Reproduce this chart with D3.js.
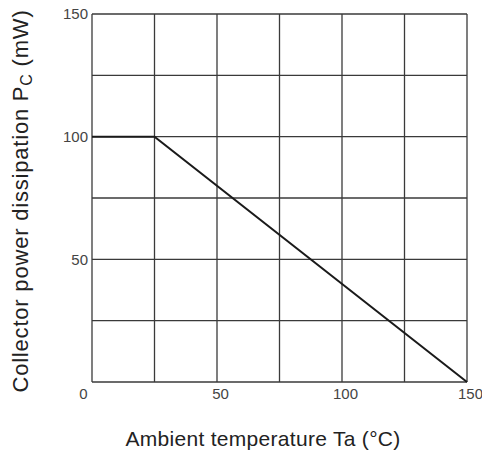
<!DOCTYPE html>
<html>
<head>
<meta charset="utf-8">
<script src="https://cdn.jsdelivr.net/npm/d3@7"></script>
<style>
  body { margin: 0; background: #fff; }
  text { font-family: "Liberation Sans", Arial, sans-serif; }
</style>
</head>
<body>
<div id="figure"></div>
<script>
const width = 482,
      height = 462;

// Derating curve (Ta in °C, Pc in mW).
const tempValues = [0, 25, 150];
const powerValues = [100, 100, 0];
const xTicks = [0, 50, 100, 150];
const yTicks = [50, 100, 150];
const gridStep = [0, 25, 50, 75, 100, 125, 150];

const svg = d3.select("#figure").append("svg")
    .attr("width", width)
    .attr("height", height);

const xscale = d3.scaleLinear().domain([0, 150]).range([92, 467]);
const yscale = d3.scaleLinear().domain([0, 150]).range([382, 14]);

// Grid.
svg.append("g")
    .attr("stroke", "#3a3a3a")
    .attr("stroke-width", 1.3)
    .call(g => g.selectAll("line.v")
        .data(gridStep)
        .join("line")
            .attr("class", "v")
            .attr("x1", d => xscale(d))
            .attr("x2", d => xscale(d))
            .attr("y1", yscale(150))
            .attr("y2", yscale(0)))
    .call(g => g.selectAll("line.h")
        .data(gridStep)
        .join("line")
            .attr("class", "h")
            .attr("y1", d => yscale(d))
            .attr("y2", d => yscale(d))
            .attr("x1", xscale(0))
            .attr("x2", xscale(150)));

// Axes (labels only).
svg.append("g")
    .attr("transform", `translate(0,${yscale(0)})`)
    .call(d3.axisBottom(xscale).tickValues(xTicks).tickSize(0).tickPadding(6))
    .call(g => g.select(".domain").remove())
    .call(g => g.selectAll("text")
        .attr("font-size", 15)
        .attr("fill", "#444")
        .attr("dx", d => d === 0 ? -9 : 3));

svg.append("g")
    .attr("transform", `translate(${xscale(0)},0)`)
    .call(d3.axisLeft(yscale).tickValues(yTicks).tickSize(0).tickPadding(4))
    .call(g => g.select(".domain").remove())
    .call(g => g.selectAll("text")
        .attr("font-size", 15)
        .attr("fill", "#444"));

// The curve.
const line = d3.line()
    .x(d => xscale(d[0]))
    .y(d => yscale(d[1]));

svg.append("path")
    .datum(tempValues.map((t, i) => [t, powerValues[i]]))
    .attr("fill", "none")
    .attr("stroke", "#1a1a1a")
    .attr("stroke-width", 2)
    .attr("d", line);

// Axis titles.
svg.append("text")
    .attr("x", 263)
    .attr("y", 446)
    .attr("text-anchor", "middle")
    .attr("font-size", 21)
    .attr("letter-spacing", 0.3)
    .attr("fill", "#222")
    .text("Ambient temperature Ta (°C)");

const ytitle = svg.append("text")
    .attr("transform", "translate(28,201) rotate(-90)")
    .attr("text-anchor", "middle")
    .attr("font-size", 22)
    .attr("letter-spacing", 0.8)
    .attr("fill", "#222");
ytitle.append("tspan").text("Collector power dissipation P");
ytitle.append("tspan").attr("font-size", 16).attr("dy", 4).text("C");
ytitle.append("tspan").attr("dy", -4).text(" (mW)");
</script>
</body>
</html>
